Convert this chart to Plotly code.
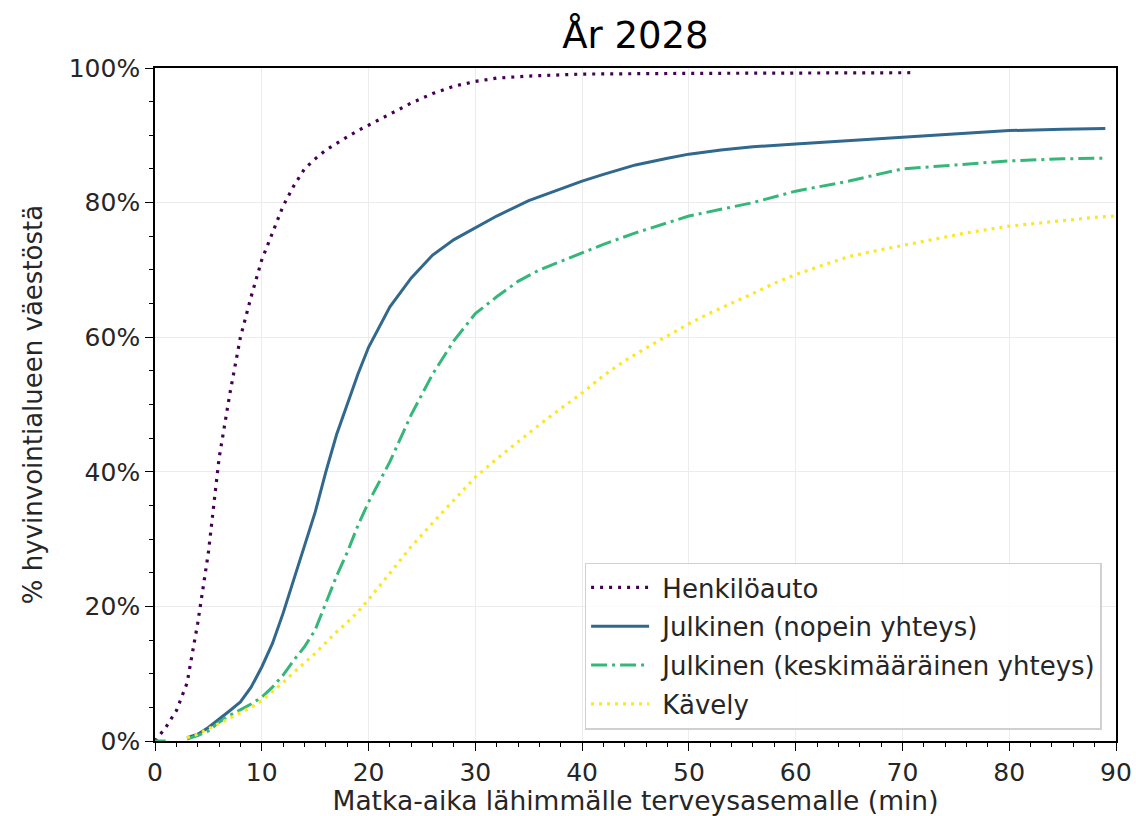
import plotly.graph_objects as go

# Henkilöauto (car)
car_x = [0, 1, 2, 3, 4, 5, 6, 7, 8, 9, 10, 11, 12, 13, 14, 15, 16, 17, 18, 19, 20,
         22, 24, 26, 28, 30, 32, 35, 40, 50, 60, 71]
car_y = [0, 2, 4.5, 8.6, 17.5, 28, 42, 51.5, 60, 66, 71.5, 75.5, 79.5, 82.5, 85, 86.5,
         87.8, 88.8, 89.8, 90.7, 91.5, 93.2, 94.8, 96.2, 97.3, 98, 98.5, 98.8, 99.1,
         99.2, 99.3, 99.3]

# Julkinen (nopein yhteys)
fast_x = [3, 4, 5, 6, 7, 8, 9, 10, 11, 12, 13, 14, 15, 16, 17, 18, 19, 20, 22, 24, 26,
          28, 30, 32, 35, 38, 40, 42, 45, 48, 50, 53, 56, 60, 63, 66, 70, 75, 80, 85, 89]
fast_y = [0.5, 1, 2, 3.2, 4.5, 5.8, 8, 11, 14.5, 19, 24, 29, 34, 40, 45.5, 50, 54.5,
          58.5, 64.5, 68.8, 72.2, 74.5, 76.2, 78, 80.3, 82, 83.2, 84.2, 85.6, 86.6,
          87.2, 87.8, 88.3, 88.7, 89, 89.3, 89.7, 90.3, 90.7, 90.9, 91.0]

# Julkinen (keskimääräinen yhteys)
avg_x = [0, 1, 2, 3, 4, 5, 6, 7, 8, 9, 10, 11, 12, 13, 14, 15, 16, 17, 18, 19, 20, 22,
         24, 26, 28, 30, 32, 34, 36, 38, 40, 42, 45, 48, 50, 53, 56, 60, 65, 68, 70,
         75, 80, 85, 89]
avg_y = [0, 0, None, 0.3, 0.8, 1.5, 2.8, 3.8, 4.6, 5.5, 6.5, 8, 9.8, 12, 14, 16.5, 20.5,
         24.5, 28, 32, 35.5, 41.5, 48.5, 54.5, 59.5, 63.5, 66, 68.3, 70, 71.3, 72.6,
         73.8, 75.5, 77, 78, 79, 80, 81.7, 83.2, 84.3, 85, 85.6, 86.2, 86.5, 86.6]

# Kävely (walking)
walk_x = [3, 4, 5, 6, 7, 8, 9, 10, 11, 12, 13, 14, 15, 16, 17, 18, 19, 20, 22, 24, 26,
          28, 30, 32, 34, 36, 38, 40, 42, 44, 46, 48, 50, 52, 54, 56, 58, 60, 62, 65,
          68, 70, 73, 76, 80, 84, 88, 90]
walk_y = [0.5, 1, 1.8, 2.6, 3.4, 4.2, 5, 6, 7.3, 8.7, 10.2, 11.6, 13, 14.6, 16.2, 17.6,
          19.2, 21, 25, 28.9, 32.4, 35.8, 39.2, 41.9, 44.5, 47, 49.4, 51.7, 54.3, 56.5,
          58.4, 60.2, 62, 63.6, 65, 66.5, 68, 69.3, 70.4, 72, 73, 73.6, 74.6, 75.5,
          76.5, 77.2, 77.8, 78]

names = ["Henkilöauto", "Julkinen (nopein yhteys)",
         "Julkinen (keskimääräinen yhteys)", "Kävely"]
colors = ["#440154", "#31688e", "#35b779", "#fde725"]

x_ticks = [0, 10, 20, 30, 40, 50, 60, 70, 80, 90]
y_ticks = [0, 20, 40, 60, 80, 100]
y_ticklabels = ["0%", "20%", "40%", "60%", "80%", "100%"]

FONT = "DejaVu Sans"
TXT = "#262626"
PAD = "\u00a0"

fig = go.Figure()
fig.add_trace(go.Scatter(x=car_x, y=car_y, mode="lines", name=PAD + names[0],
                         legendgroup="g0",
                         line=dict(color=colors[0], width=3.2, dash="3px,6px")))
fig.add_trace(go.Scatter(x=fast_x, y=fast_y, mode="lines", name=PAD + names[1],
                         legendgroup="g1",
                         line=dict(color=colors[1], width=3)))
fig.add_trace(go.Scatter(x=avg_x, y=avg_y, mode="lines", name=PAD + names[2],
                         legendgroup="g2", connectgaps=False,
                         line=dict(color=colors[2], width=3, dash="16px,5px,3px,5px")))
fig.add_trace(go.Scatter(x=walk_x, y=walk_y, mode="lines", name=PAD + names[3],
                         legendgroup="g3",
                         line=dict(color=colors[3], width=3.2, dash="3px,5px")))

axis_common = dict(
    showline=True, linecolor="black", linewidth=1.6, mirror=True,
    ticks="outside", ticklen=8, tickwidth=1.3, tickcolor="black",
    showgrid=True, gridcolor="#ececec", gridwidth=1,
    zeroline=False, automargin=False,
    tickfont=dict(family=FONT, size=25, color=TXT),
)

fig.update_xaxes(
    range=[0, 90], tickvals=x_ticks,
    minor=dict(dtick=2, tick0=0, ticks="outside", ticklen=4, tickwidth=1.1,
               tickcolor="black", showgrid=False),
    title=dict(text="Matka-aika lähimmälle terveysasemalle (min)",
               font=dict(family=FONT, size=26.5, color=TXT), standoff=13),
    **axis_common,
)
fig.update_yaxes(
    range=[0, 100], tickvals=y_ticks, ticktext=y_ticklabels,
    minor=dict(dtick=5, tick0=0, ticks="outside", ticklen=4, tickwidth=1.1,
               tickcolor="black", showgrid=False),
    title=dict(text="% hyvinvointialueen väestöstä",
               font=dict(family=FONT, size=26, color=TXT), standoff=19),
    **axis_common,
)

fig.update_layout(
    width=1136, height=816,
    margin=dict(l=155, r=20, t=68, b=75),
    paper_bgcolor="white", plot_bgcolor="white",
    title=dict(text="År 2028", x=0.5593, xanchor="center", y=0.957, yanchor="middle",
               font=dict(family=FONT, size=37, color="black")),
    legend=dict(x=0.985, y=0.017, xanchor="right", yanchor="bottom",
                bgcolor="rgba(255,255,255,0.85)", bordercolor="#d0d0d0", borderwidth=1.5,
                font=dict(family=FONT, size=26, color=TXT), itemwidth=58,
                tracegroupgap=2),
    showlegend=True,
)

fig.write_html("out.html")
